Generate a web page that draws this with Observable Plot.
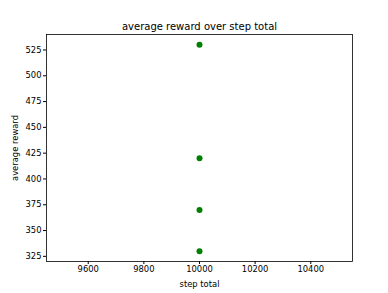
<!DOCTYPE html>
<html><head><meta charset="utf-8">
<script src="https://cdn.jsdelivr.net/npm/d3@7"></script>
<script src="https://cdn.jsdelivr.net/npm/@observablehq/plot@0.6"></script>
<style>html,body{margin:0;padding:0;background:#fff;}</style>
</head><body><div id="chart"></div>
<script>
const stepTotals = [10000, 10000, 10000, 10000];
const avgRewards = [530, 420, 370, 330];
const xTicks = [9600, 9800, 10000, 10200, 10400];
const yTicks = [325, 350, 375, 400, 425, 450, 475, 500, 525];
const title = "average reward over step total";

const data = stepTotals.map((s, i) => ({step: s, reward: avgRewards[i]}));

const chart = Plot.plot({
  width: 388, height: 293,
  marginLeft: 46, marginRight: 36, marginTop: 34, marginBottom: 32,
  style: {fontFamily: "DejaVu Sans", fontSize: "8.4px", color: "#000", background: "#fff"},
  x: {domain: [9450, 10550], ticks: xTicks, tickFormat: d3.format("d"), tickSize: 3, tickPadding: 2,
      label: "step total", labelAnchor: "center", labelArrow: "none", labelOffset: 25},
  y: {domain: [320, 540], ticks: yTicks, tickSize: 3, tickPadding: 2,
      label: "average reward", labelAnchor: "center", labelArrow: "none", labelOffset: 34},
  marks: [
    Plot.frame({stroke: "#000", strokeWidth: 0.8}),
    Plot.dot(data, {x: "step", y: "reward", r: 3, fill: "#008000", stroke: "none"}),
    Plot.text([title], {frameAnchor: "top", dy: -12, text: d => d, fontSize: 10, fill: "#000"})
  ]
});
document.getElementById("chart").appendChild(chart);
</script></body></html>
